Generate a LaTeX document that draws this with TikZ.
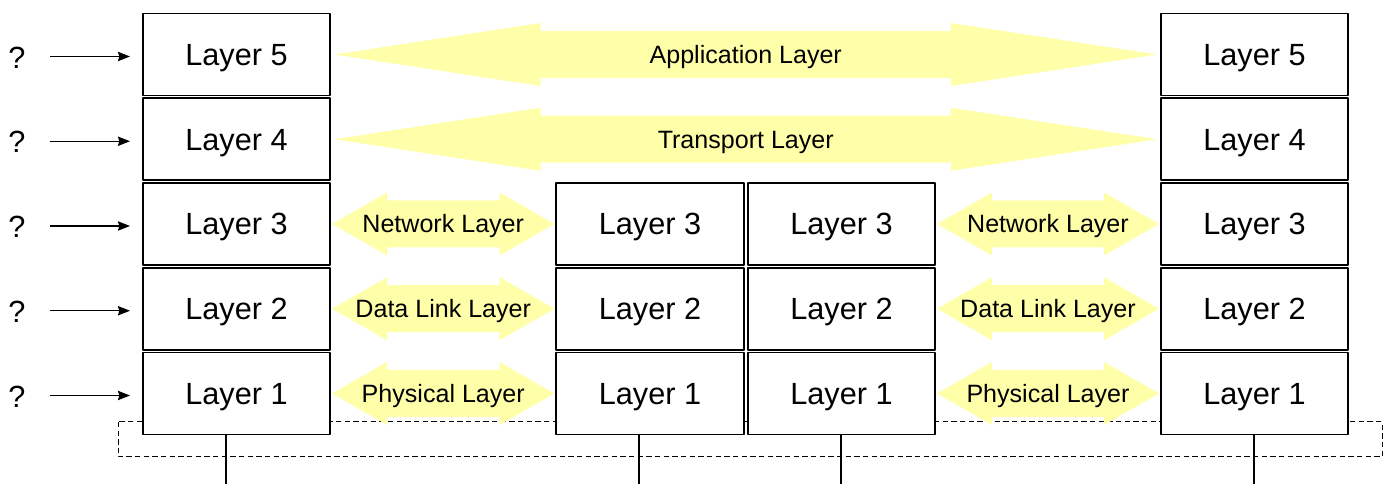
\documentclass[tikz,border=0pt]{standalone}
\usepackage{fontspec}
\setmainfont{Liberation Sans}
\usetikzlibrary{calc,arrows.meta}
\definecolor{pipeyellow}{HTML}{FFFFAA}
\tikzset{
  layerbox/.style={draw, line width=1.3pt, fill=white, minimum width=140.5pt, minimum height=61.5pt, inner sep=0pt, text height=16.5pt, text depth=0pt, font=\fontsize{23}{27}\selectfont},
  pipefill/.style={fill=pipeyellow},
  pipelabel/.style={inner sep=0pt, text height=13.5pt, text depth=0pt, font=\fontsize{18.8}{22}\selectfont},
  qmark/.style={inner sep=0pt, font=\fontsize{23}{27}\selectfont},
  feed/.style={line width=0.8pt, -{Stealth[length=9pt, width=7pt, inset=1pt]}},
  wire/.style={line width=1.2pt},
  linkbox/.style={line width=0.75pt, dash pattern=on 4pt off 2.5pt}
}
% fat double arrow between two points, #3 = head length
\newcommand{\layerpipe}[3]{%
  \fill[pipefill] (#1) -- ($(#1)+(#3,-31.5)$) -- ($(#1)+(#3,-23.5)$) -- ($(#2)+(-#3,-23.5)$)
    -- ($(#2)+(-#3,-31.5)$) -- (#2) -- ($(#2)+(-#3,31.5)$) -- ($(#2)+(-#3,23.5)$)
    -- ($(#1)+(#3,23.5)$) -- ($(#1)+(#3,31.5)$) -- cycle;}
\begin{document}
\begin{tikzpicture}[x=0.75pt, y=-0.75pt, line join=round, >=stealth]
  \useasboundingbox (0,0) rectangle (1390,484);
  % Dashed link rectangle (behind everything)
  \draw[linkbox] (118,422) rectangle (1382,457);
  % Host stacks (left and right)
  \foreach \n in {1,...,5}{
    \node[layerbox] (L\n a) at (236.5,{54.5+84.75*(5-\n)}) {Layer \n};
    \node[layerbox] (L\n d) at (1254.5,{54.5+84.75*(5-\n)}) {Layer \n};
  }
  % Router stacks (middle)
  \foreach \n in {1,2,3}{
    \node[layerbox] (L\n b) at (650,{54.5+84.75*(5-\n)}) {Layer \n};
    \node[layerbox] (L\n c) at (841.5,{54.5+84.75*(5-\n)}) {Layer \n};
  }
  % End points of the peer arrows
  \coordinate (A5w) at ($(L5a.east)+(3.5,0)$);
  \coordinate (A5e) at ($(L5d.west)+(-3,0)$);
  \coordinate (A4w) at ($(L4a.east)+(3.5,0)$);
  \coordinate (A4e) at ($(L4d.west)+(-3,0)$);
  \foreach \n in {1,2,3}{
    \coordinate (B\n w) at ($(L\n a.east)+(1,0)$);
    \coordinate (B\n e) at ($(L\n b.west)+(-1,0)$);
    \coordinate (C\n w) at ($(L\n c.east)+(1,0)$);
    \coordinate (C\n e) at ($(L\n d.west)+(-1,0)$);
  }
  % Peer arrows
  \layerpipe{A5w}{A5e}{206}
  \layerpipe{A4w}{A4e}{206}
  \foreach \n in {1,2,3}{
    \layerpipe{B\n w}{B\n e}{55}
    \layerpipe{C\n w}{C\n e}{55}
  }
  % Labels on the arrows
  \node[pipelabel] (app) at ($(A5w)!0.5!(A5e)$) {Application Layer};
  \node[pipelabel] (trans) at ($(A4w)!0.5!(A4e)$) {Transport Layer};
  \node[pipelabel] (netb) at ($(B3w)!0.5!(B3e)$) {Network Layer};
  \node[pipelabel] (netc) at ($(C3w)!0.5!(C3e)$) {Network Layer};
  \node[pipelabel] (dlb) at ($(B2w)!0.5!(B2e)$) {Data Link Layer};
  \node[pipelabel] (dlc) at ($(C2w)!0.5!(C2e)$) {Data Link Layer};
  \node[pipelabel] (phb) at ($(B1w)!0.5!(B1e)$) {Physical Layer};
  \node[pipelabel] (phc) at ($(C1w)!0.5!(C1e)$) {Physical Layer};
  % Question marks with feeding arrows
  \foreach \n in {1,...,5}{
    \node[qmark] (q\n) at ($(17,0)+(0,0 |- L\n a)+(0,3)$) {?};
    \coordinate (f\n) at ($(L\n a.west)+(-12,2)$);
    \draw[feed] (50,0 |- f\n) -- (f\n);
  }
  % Wires down from layer 1
  \coordinate (wa) at (226,484);
  \coordinate (wb) at (639,484);
  \coordinate (wc) at (841,484);
  \coordinate (wd) at (1254,484);
  \draw[wire] (wa |- L1a.south) -- (wa);
  \draw[wire] (wb |- L1b.south) -- (wb);
  \draw[wire] (wc |- L1c.south) -- (wc);
  \draw[wire] (wd |- L1d.south) -- (wd);
\end{tikzpicture}
\end{document}
